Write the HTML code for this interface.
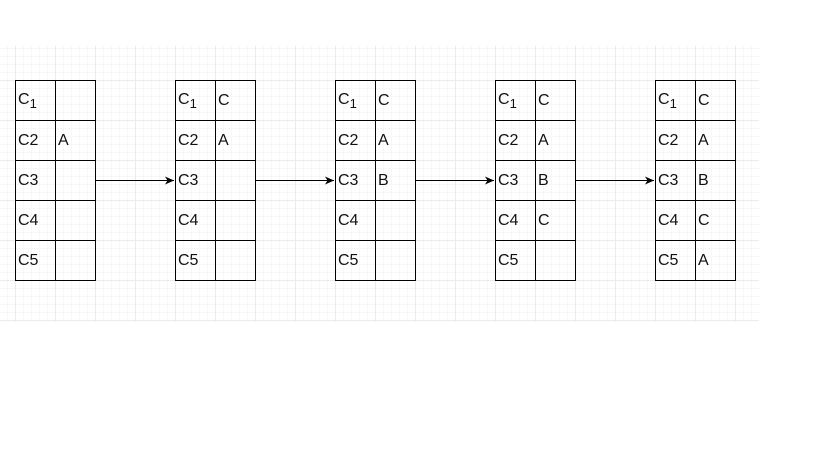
<!DOCTYPE html>
<html><head><style>
body{margin:0;width:819px;height:460px;background:#fff;position:relative;overflow:hidden;font-family:"Liberation Sans",Arial,sans-serif}
.grid{position:absolute;left:0;top:46px;width:759px;height:276px;
background-image:linear-gradient(#ebebeb 1px,transparent 1px),linear-gradient(90deg,#ebebeb 1px,transparent 1px),linear-gradient(#f7f7f7 1px,transparent 1px),linear-gradient(90deg,#f7f7f7 1px,transparent 1px);
background-size:40px 40px,40px 40px,8px 8px,8px 8px;background-position:0 -6px,15px 0,0 -6px,15px 0}
table{position:absolute;top:80px;border-collapse:collapse}
td{border:1px solid #000;padding:0 0 0 2px;font-size:16px;color:#111;box-sizing:border-box;width:40px;height:40px}
sub{font-size:13px;vertical-align:-4px}
</style></head><body>
<div class="grid"></div>
<svg width="819" height="460" style="position:absolute;left:0;top:0">
<defs><marker id="a" markerWidth="10" markerHeight="10" refX="9" refY="5" orient="auto" markerUnits="userSpaceOnUse"><path d="M0,1 L9,5 L0,9 L2.5,5z" fill="#000"/></marker></defs>
<g stroke="#000" stroke-width="1">
<line x1="95" y1="180.5" x2="174" y2="180.5" marker-end="url(#a)"/>
<line x1="255" y1="180.5" x2="334" y2="180.5" marker-end="url(#a)"/>
<line x1="415" y1="180.5" x2="494" y2="180.5" marker-end="url(#a)"/>
<line x1="575" y1="180.5" x2="654" y2="180.5" marker-end="url(#a)"/>
</g></svg>
<table style="left:15px"><tr><td>C<sub>1</sub></td><td></td></tr><tr><td>C2</td><td>A</td></tr><tr><td>C3</td><td></td></tr><tr><td>C4</td><td></td></tr><tr><td>C5</td><td></td></tr></table>
<table style="left:175px"><tr><td>C<sub>1</sub></td><td>C</td></tr><tr><td>C2</td><td>A</td></tr><tr><td>C3</td><td></td></tr><tr><td>C4</td><td></td></tr><tr><td>C5</td><td></td></tr></table>
<table style="left:335px"><tr><td>C<sub>1</sub></td><td>C</td></tr><tr><td>C2</td><td>A</td></tr><tr><td>C3</td><td>B</td></tr><tr><td>C4</td><td></td></tr><tr><td>C5</td><td></td></tr></table>
<table style="left:495px"><tr><td>C<sub>1</sub></td><td>C</td></tr><tr><td>C2</td><td>A</td></tr><tr><td>C3</td><td>B</td></tr><tr><td>C4</td><td>C</td></tr><tr><td>C5</td><td></td></tr></table>
<table style="left:655px"><tr><td>C<sub>1</sub></td><td>C</td></tr><tr><td>C2</td><td>A</td></tr><tr><td>C3</td><td>B</td></tr><tr><td>C4</td><td>C</td></tr><tr><td>C5</td><td>A</td></tr></table>
</body></html>
